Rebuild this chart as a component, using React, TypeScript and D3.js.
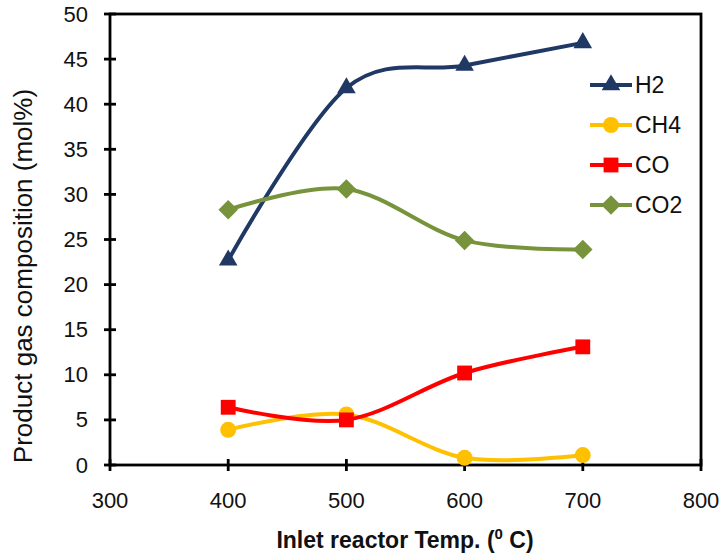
import { useEffect, useRef } from "react";
import * as d3 from "d3";

const temps = [400, 500, 600, 700];
const h2 = [22.7, 41.8, 44.3, 46.8];
const ch4 = [3.9, 5.6, 0.8, 1.1];
const co = [6.4, 5.0, 10.2, 13.1];
const co2 = [28.3, 30.6, 24.9, 23.9];

const xTicks = [300, 400, 500, 600, 700, 800];
const yTicks = [0, 5, 10, 15, 20, 25, 30, 35, 40, 45, 50];

const series = [
  { name: "H2", values: h2, color: "#1F3864", symbol: "triangle" },
  { name: "CH4", values: ch4, color: "#FFC000", symbol: "circle" },
  { name: "CO", values: co, color: "#FF0000", symbol: "square" },
  { name: "CO2", values: co2, color: "#77933C", symbol: "diamond" },
];

export default function App() {
  const ref = useRef<SVGSVGElement>(null);

  useEffect(() => {
    const width = 724;
    const height = 558;
    const marginLeft = 110;
    const marginRight = 23;
    const marginTop = 14;
    const marginBottom = 93;
    const font = "Arial, 'Liberation Sans', sans-serif";

    const svg = d3.select(ref.current);
    svg.selectAll("*").remove();
    svg.attr("width", width).attr("height", height)
      .style("position", "absolute").style("left", "0px").style("top", "0px");

    const x = d3.scaleLinear([300, 800], [marginLeft, width - marginRight]);
    const y = d3.scaleLinear([0, 50], [height - marginBottom, marginTop]);

    svg.append("rect").attr("width", width).attr("height", height).attr("fill", "white");

    // plot frame
    svg.append("rect")
      .attr("x", x(300)).attr("y", y(50))
      .attr("width", x(800) - x(300)).attr("height", y(0) - y(50))
      .attr("fill", "none").attr("stroke", "#000").attr("stroke-width", 2.8);

    // y ticks
    const yg = svg.append("g");
    yg.selectAll("line").data(yTicks).join("line")
      .attr("x1", x(300) - 6).attr("x2", x(300) + 6)
      .attr("y1", d => y(d)).attr("y2", d => y(d))
      .attr("stroke", "#000").attr("stroke-width", 2.8);
    yg.selectAll("text").data(yTicks).join("text")
      .attr("x", x(300) - 22).attr("y", d => y(d) + 7.5)
      .attr("text-anchor", "end")
      .attr("font-family", font).attr("font-size", 22).attr("fill", "#111")
      .text(d => d);

    // x ticks
    const xg = svg.append("g");
    xg.selectAll("line").data(xTicks).join("line")
      .attr("x1", d => x(d)).attr("x2", d => x(d))
      .attr("y1", y(0) - 6).attr("y2", y(0) + 6)
      .attr("stroke", "#000").attr("stroke-width", 2.8);
    xg.selectAll("text").data(xTicks).join("text")
      .attr("x", d => x(d)).attr("y", y(0) + 43)
      .attr("text-anchor", "middle")
      .attr("font-family", font).attr("font-size", 22).attr("fill", "#111")
      .text(d => d);

    // axis titles
    const xt = svg.append("text")
      .attr("x", 405).attr("y", 548)
      .attr("text-anchor", "middle")
      .attr("font-family", font).attr("font-size", 23).attr("font-weight", "bold").attr("fill", "#111");
    xt.append("tspan").text("Inlet reactor Temp. (");
    xt.append("tspan").attr("font-size", 15).attr("dy", -9).text("0");
    xt.append("tspan").attr("dy", 9).text(" C)");

    svg.append("text")
      .attr("transform", "translate(32,276) rotate(-90)")
      .attr("text-anchor", "middle")
      .attr("font-family", font).attr("font-size", 26).attr("fill", "#111")
      .text("Product gas composition (mol%)");

    const sizes: Record<string, number> = { triangle: 150, circle: 200, square: 220, diamond: 190 };
    const markerPath = (s: string) => {
      const t = s === "triangle" ? d3.symbolTriangle
        : s === "circle" ? d3.symbolCircle
        : d3.symbolSquare;
      return d3.symbol(t, sizes[s])();
    };
    const markerRot = (s: string) => (s === "diamond" ? " rotate(45)" : "");

    const line = d3.line<number>()
      .x((_, i) => x(temps[i]))
      .y(d => y(d))
      .curve(d3.curveCatmullRom.alpha(0));

    for (const s of series) {
      const g = svg.append("g");
      g.append("path")
        .attr("d", line(s.values))
        .attr("fill", "none").attr("stroke", s.color).attr("stroke-width", 4);
      g.selectAll("path.m").data(s.values).join("path")
        .attr("class", "m")
        .attr("transform", (d, i) => `translate(${x(temps[i])},${y(d)})${markerRot(s.symbol)}`)
        .attr("d", markerPath(s.symbol))
        .attr("fill", s.color);
    }

    // legend
    const leg = svg.append("g").attr("transform", "translate(590,85)");
    series.forEach((s, i) => {
      const row = leg.append("g").attr("transform", `translate(0,${i * 40})`);
      row.append("line").attr("x1", 0).attr("x2", 42)
        .attr("stroke", s.color).attr("stroke-width", 4);
      row.append("path").attr("transform", `translate(21,0)${markerRot(s.symbol)}`)
        .attr("d", markerPath(s.symbol))
        .attr("fill", s.color);
      row.append("text").attr("x", 45).attr("y", 8)
        .attr("font-family", font).attr("font-size", 23).attr("fill", "#111")
        .text(s.name);
    });
  }, []);

  return <svg ref={ref}></svg>;
}
